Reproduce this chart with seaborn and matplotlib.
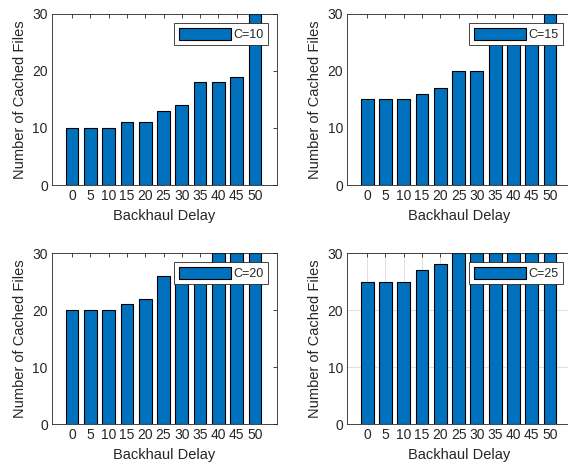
import numpy as np
import pandas as pd
import seaborn as sns
import matplotlib.pyplot as plt

# Backhaul delay categories
delays = ["0", "5", "10", "15", "20", "25", "30", "35", "40", "45", "50"]

# Number of cached files for each cache size (values above 30 are clipped in the picture)
cached_c10 = [10, 10, 10, 11, 11, 13, 14, 18, 18, 19, 30]
cached_c15 = [15, 15, 15, 16, 17, 20, 20, 26, 27, 27, 30]
cached_c20 = [20, 20, 20, 21, 22, 26, 27, 28, 30, 30, 30]
cached_c25 = [25, 25, 25, 27, 28, 30, 30, 30, 30, 30, 30]

panel_labels = ["C=10", "C=15", "C=20", "C=25"]
panel_values = [cached_c10, cached_c15, cached_c20, cached_c25]

sns.set_style("white")
plt.rcParams["font.family"] = ["Liberation Sans", "DejaVu Sans"]
plt.rcParams["text.color"] = "#262626"
plt.rcParams["axes.labelcolor"] = "#262626"
plt.rcParams["xtick.color"] = "#262626"
plt.rcParams["ytick.color"] = "#262626"

fig = plt.figure(figsize=(5.68, 4.68), dpi=100)

# axes rectangles in figure fractions (right column runs off the edge like the original)
positions = [
    [0.0915, 0.6047, 0.396, 0.3654],
    [0.611, 0.6047, 0.396, 0.3654],
    [0.0915, 0.094, 0.396, 0.3654],
    [0.611, 0.094, 0.396, 0.3654],
]

for i in range(4):
    ax = fig.add_axes(positions[i])
    df = pd.DataFrame({"delay": delays, "files": panel_values[i]})
    sns.barplot(data=df, x="delay", y="files", color="#0072BD", saturation=1,
                edgecolor="black", linewidth=0.8, width=0.7, ax=ax,
                label=panel_labels[i])
    if i == 3:
        ax.grid(True, axis="both", color="#d9d9d9", linewidth=0.6)
        ax.set_axisbelow(True)
    ax.set_xlim(-1.1, 11.2)
    ax.set_ylim(0, 30)
    ax.set_yticks([0, 10, 20, 30])
    ax.set_xlabel("Backhaul Delay", fontsize=10.5)
    ax.set_ylabel("Number of Cached Files", fontsize=10.5)
    ax.tick_params(direction="in", top=True, right=True, labelsize=10,
                   length=3, width=0.6, pad=3)
    for s in ax.spines.values():
        s.set_color("#262626")
        s.set_linewidth(0.6)
    leg = ax.legend(loc="upper right", fontsize=9, handlelength=4.2,
                    handleheight=1.1, handletextpad=0.15, borderpad=0.35,
                    borderaxespad=0.75, fancybox=False, framealpha=1)
    leg.get_frame().set_edgecolor("#262626")
    leg.get_frame().set_linewidth(0.6)

plt.savefig("out.png", dpi=100)
